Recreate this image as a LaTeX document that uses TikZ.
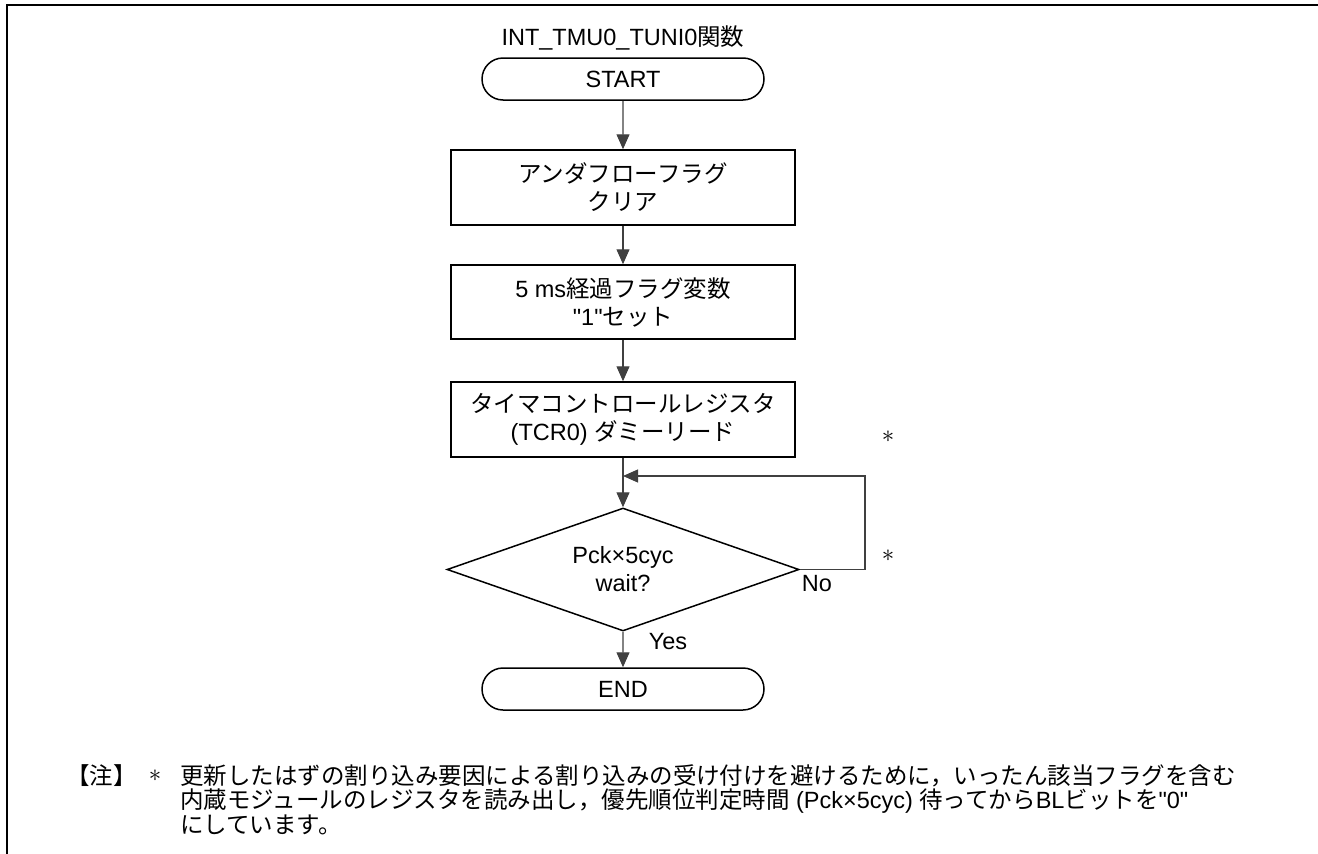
\documentclass[tikz,border=0pt]{standalone}
\usepackage{fontspec}
\setmainfont{Liberation Sans}
\newfontfamily\lat{Liberation Sans}
\newfontfamily\jp{Noto Sans CJK JP}
\usetikzlibrary{arrows.meta,shapes.geometric,shapes.misc}
\begin{document}
\begin{tikzpicture}[x=1pt,y=-1pt,
  every node/.style={font=\fontsize{23.5}{28}\selectfont, inner sep=0pt},
  term/.style={rounded rectangle, draw=black, line width=1.5pt, minimum width=282pt, minimum height=42pt},
  proc/.style={rectangle, draw=black, line width=1.5pt, minimum width=344pt, align=center},
  deci/.style={diamond, draw=black, line width=1.5pt, aspect=2.86, minimum width=352pt, minimum height=123pt, align=center},
  conn/.style={draw=black!75, line width=1.2pt, -{Triangle[width=13pt,length=15pt]}},
  frame/.style={draw=black, line width=2.5pt}
]
\useasboundingbox (0,0) rectangle (1318,854);
% frame
\coordinate (fl) at (7,854);
\coordinate (fc) at (7,5);
\coordinate (fr) at (1318,5);
\draw[frame] (fl) -- (fc) -- (fr);

\node (title) at (623,38) {INT\_TMU0\_TUNI0{\jp 関数}};
\node[term] (start) at (623,79) {START};
\node[proc, minimum height=75pt] (b1) at (623,187.5) {{\jp アンダフローフラグ}\\{\jp クリア}};
\node[proc, minimum height=74pt] (b2) at (623,302) {5 ms{\jp 経過フラグ変数}\\{\lat "1"}{\jp セット}};
\node[proc, minimum height=75pt] (b3) at (623,419.5) {{\jp タイマコントロールレジスタ}\\(TCR0) {\jp ダミーリード}};
\node[deci] (dec) at (623,569.5) {Pck×5cyc\\wait?};
\node[term] (end) at (623,689) {END};

\coordinate (join) at (623,476);
\coordinate (loopc) at (865,476);

\draw[conn] (start) -- (b1);
\draw[conn] (b1) -- (b2);
\draw[conn] (b2) -- (b3);
\draw[conn] (b3) -- (dec.north);
\draw[conn] (dec.east) -| (loopc) -- (join);
\draw[conn] (dec.south) -- (end);

\node (no) at (817,584) {No};
\node (yes) at (668,642) {Yes};
\node (ast1) at (888,437) {$\ast$};
\node (ast2) at (888,556) {$\ast$};

% note
\node[anchor=west] (nh) at (66,776) {\jp 【注】};
\node (nast) at (155,776) {$\ast$};
\node[anchor=west] (n1) at (180,776) {\jp 更新したはずの割り込み要因による割り込みの受け付けを避けるために，いったん該当フラグを含む};
\node[anchor=west] (n2) at (180,801) {{\jp 内蔵モジュールのレジスタを読み出し，優先順位判定時間} (Pck×5cyc) {\jp 待ってから}BL{\jp ビットを}{\lat "0"}};
\node[anchor=west] (n3) at (180,825) {\jp にしています。};
\end{tikzpicture}
\end{document}
